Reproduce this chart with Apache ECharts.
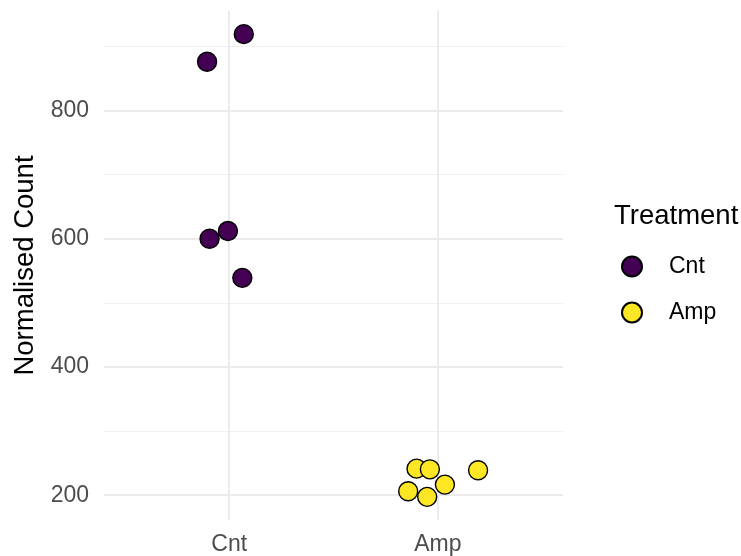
<!DOCTYPE html>
<html>
<head>
<meta charset="utf-8">
<script src="https://cdn.jsdelivr.net/npm/echarts@6/dist/echarts.min.js"></script>
<style>
  html, body { margin: 0; padding: 0; background: #fff; }
  #chart { width: 741px; height: 556px; }
</style>
</head>
<body>
<div id="chart"></div>
<script>
// groups on the x axis (1 = Cnt, 2 = Amp), jittered positions
var categories = ["Cnt", "Amp"];
var cntJitter = [1.070, 0.894, 0.906, 0.994, 1.063];
var cntCount = [919, 876, 600, 612, 539];
var ampJitter = [1.898, 1.962, 2.193, 2.034, 1.858, 1.949];
var ampCount = [241.5, 240.4, 238.9, 216.6, 206.2, 197.5];
var yTicks = [200, 400, 600, 800];
var yMinor = [300, 500, 700, 900];
var xTicks = [1, 2];

var font = "Liberation Sans, Arial, sans-serif";

function pairs(xs, ys) {
  return xs.map(function (x, i) { return [x, ys[i]]; });
}

// gridlines as mark lines so they sit on the real tick values
var gridLines = [];
yMinor.forEach(function (v) {
  gridLines.push({ yAxis: v, lineStyle: { color: "#f0f0f0", width: 1.2, type: "solid" } });
});
yTicks.forEach(function (v) {
  gridLines.push({ yAxis: v, lineStyle: { color: "#ebebeb", width: 2, type: "solid" } });
});
xTicks.forEach(function (v) {
  gridLines.push({ xAxis: v, lineStyle: { color: "#ebebeb", width: 2, type: "solid" } });
});

var dom = echarts.init(document.getElementById("chart"));
var option = {
  backgroundColor: "#fff",
  animation: false,
  textStyle: { fontFamily: font },
  title: {
    text: "Treatment",
    left: 609,
    top: 197,
    textStyle: { fontFamily: font, fontSize: 27.5, fontWeight: "normal", color: "#000" }
  },
  legend: {
    data: categories,
    orient: "vertical",
    left: 616,
    top: 250,
    icon: "circle",
    itemWidth: 40,
    itemHeight: 20,
    itemGap: 23,
    textStyle: { fontFamily: font, fontSize: 23, color: "#000", lineHeight: 20, padding: [0, 0, 0, 12] }
  },
  grid: { left: 104, right: 178, top: 11, bottom: 32 },
  xAxis: {
    type: "value",
    min: 0.4,
    max: 2.6,
    axisLine: { show: false },
    axisTick: { show: false },
    splitLine: { show: false },
    axisLabel: {
      customValues: xTicks,
      margin: 13,
      fontFamily: font,
      fontSize: 23,
      color: "#4d4d4d",
      formatter: function (v) { return categories[Math.round(v) - 1]; }
    }
  },
  yAxis: {
    type: "value",
    min: 161.4,
    max: 955.1,
    name: "Normalised Count",
    nameLocation: "middle",
    nameRotate: 90,
    nameGap: 65,
    nameTextStyle: { fontFamily: font, fontSize: 27.5, color: "#000" },
    axisLine: { show: false },
    axisTick: { show: false },
    splitLine: { show: false },
    axisLabel: {
      customValues: yTicks,
      margin: 15,
      fontFamily: font,
      fontSize: 23,
      color: "#4d4d4d"
    }
  },
  series: [
    {
      name: "grid",
      type: "line",
      data: [],
      silent: true,
      z: 1,
      markLine: {
        silent: true,
        symbol: ["none", "none"],
        label: { show: false },
        emphasis: { disabled: true },
        z: 1,
        data: gridLines
      }
    },
    {
      name: "Cnt",
      type: "scatter",
      z: 3,
      symbolSize: 19,
      itemStyle: { color: "#440154", borderColor: "#000", borderWidth: 1.4, opacity: 1 },
      data: pairs(cntJitter, cntCount)
    },
    {
      name: "Amp",
      type: "scatter",
      z: 3,
      symbolSize: 19,
      itemStyle: { color: "#fde725", borderColor: "#000", borderWidth: 1.4, opacity: 1 },
      data: pairs(ampJitter, ampCount)
    }
  ]
};
dom.setOption(option);
</script>
</body>
</html>
